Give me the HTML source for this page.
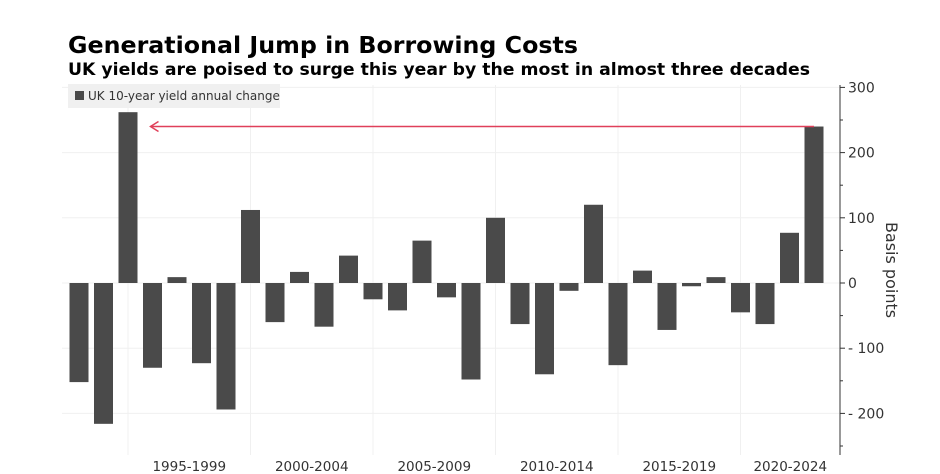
<!DOCTYPE html>
<html><head><meta charset="utf-8"><style>
body{margin:0;background:#fff;}
svg{display:block;font-family:"DejaVu Sans","Liberation Sans",sans-serif;}
</style></head><body>
<svg id="chart" width="940" height="474">
<text x="68" y="53" font-size="23" font-weight="bold" fill="#000" textLength="510" lengthAdjust="spacingAndGlyphs">Generational Jump in Borrowing Costs</text>
<text x="68" y="75" font-size="17" font-weight="bold" fill="#000" textLength="742" lengthAdjust="spacingAndGlyphs">UK yields are poised to surge this year by the most in almost three decades</text>
<g id="grid"></g><g id="bars"></g><g id="axis"></g>
<rect x="68" y="84" width="212" height="24" fill="#f0f0f0"/>
<rect x="75" y="91" width="9" height="9" fill="#4a4a4a"/>
<text x="88" y="100" font-size="12" fill="#333">UK 10-year yield annual change</text>
<g id="annot"></g>
<text transform="translate(886,270) rotate(90)" text-anchor="middle" font-size="16" fill="#333">Basis points</text>
</svg>
<script>
const years=[1992,1993,1994,1995,1996,1997,1998,1999,2000,2001,2002,2003,2004,2005,2006,2007,2008,2009,2010,2011,2012,2013,2014,2015,2016,2017,2018,2019,2020,2021,2022];
const values=[-152,-216,262,-130,9,-123,-194,112,-60,17,-67,42,-25,-42,65,-22,-148,100,-63,-140,-12,120,-126,19,-72,-5,9,-45,-63,77,240];
const yTicks=[-200,-100,0,100,200,300];
const xLabels=["1995-1999","2000-2004","2005-2009","2010-2014","2015-2019","2020-2024"];
const NS="http://www.w3.org/2000/svg";
const x0=79,pitch=24.5,bw=19,plotLeft=62,plotRight=840,plotTop=85,plotBottom=455;
const xc=i=>x0+i*pitch;
const yScale=v=>283-v*0.652;
function mk(tag,attrs,parent){const e=document.createElementNS(NS,tag);for(const k in attrs)e.setAttribute(k,attrs[k]);document.getElementById(parent).appendChild(e);return e;}
yTicks.forEach(t=>{
 const g=mk('line',{x1:plotLeft,x2:plotRight,y1:yScale(t),y2:yScale(t),stroke:'#f0f0f0','stroke-width':1},'grid');
 
 
 const tk=mk('line',{x1:plotRight,x2:plotRight+5,y1:yScale(t),y2:yScale(t),stroke:'#333'},'axis');
 
 
 const l=mk('text',{x:plotRight+8,y:yScale(t)+5,'font-size':14,fill:'#333'},'axis');
 l.textContent=t<0?('- '+Math.abs(t)):String(t);
 
 
});
for(let t=-250;t<=300;t+=50){if(t%100!==0){const m=mk('line',{x1:plotRight,x2:plotRight+3,y1:yScale(t),y2:yScale(t),stroke:'#333'},'axis');}}
const ax=mk('line',{x1:plotRight,x2:plotRight,y1:plotTop,y2:plotBottom,stroke:'#333'},'axis');


xLabels.forEach((s,k)=>{
 const gx=xc(2+5*k);
 const g=mk('line',{x1:gx,x2:gx,y1:plotTop,y2:plotBottom,stroke:'#f0f0f0'},'grid');
 
 
 const lx=Math.min(gx+pitch*2.5,(gx+plotRight)/2);
 const t=mk('text',{x:lx,y:471,'text-anchor':'middle','font-size':13.5,fill:'#333'},'axis');
 t.textContent=s;
 
 
});
values.forEach((v,i)=>{
 const r=mk('rect',{x:xc(i)-bw/2,y:Math.min(yScale(v),yScale(0)),width:bw,height:Math.abs(yScale(v)-yScale(0)),fill:'#4a4a4a'},'bars');
 
 
});
const peakI=2,lastI=values.length-1;
const ay=yScale(values[lastI]);
const al=mk('line',{x1:xc(peakI)+bw/2+13,x2:xc(lastI),y1:ay,y2:ay,stroke:'#e0405a','stroke-width':1.5},'annot');


const ah=mk('polyline',{points:`${xc(peakI)+bw/2+21},${ay-5} ${xc(peakI)+bw/2+13},${ay} ${xc(peakI)+bw/2+21},${ay+5}`,fill:'none',stroke:'#e0405a','stroke-width':1.5},'annot');


</script>
</body></html>
